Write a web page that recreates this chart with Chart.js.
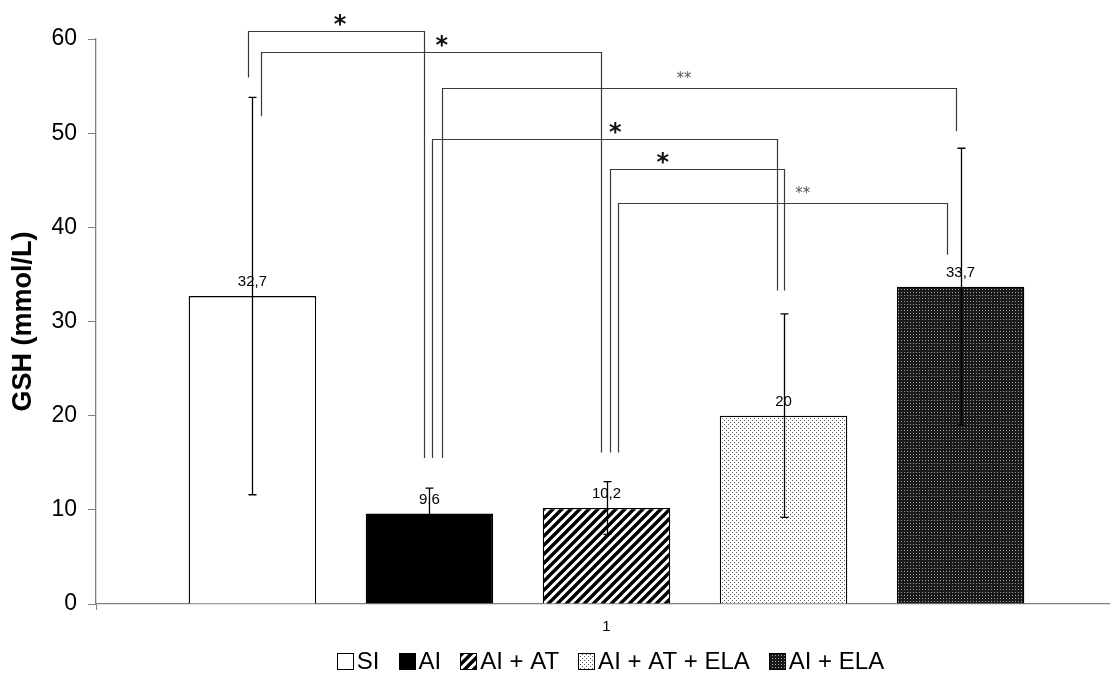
<!DOCTYPE html>
<html>
<head>
<meta charset="utf-8">
<script src="https://cdn.jsdelivr.net/npm/chart.js@4/dist/chart.umd.min.js"></script>
<style>
  html, body { margin: 0; background: #fff; overflow: hidden; }
  #wrap { width: 1117px; height: 677px; }
</style>
</head>
<body>
<div id="wrap"><canvas id="chart"></canvas></div>
<script>
// --- data ---
const categories = ["1"];
const groups = ["SI", "AI", "AI + AT", "AI + AT + ELA", "AI + ELA"];
const means = [32.7, 9.6, 10.2, 20, 33.7];
const errors = [21.1, 2.7, 2.8, 10.8, 14.7];
const yTicks = [0, 10, 20, 30, 40, 50, 60];

// significance brackets (group index from/to, heights in mmol/L)
const bracketFrom = [0, 0, 1, 1, 2, 2];
const bracketTo = [1, 2, 4, 3, 3, 4];
const bracketTop = [60.9, 58.6, 54.8, 49.4, 46.2, 42.6];
const bracketLeftEnd = [55.9, 51.8, 15.5, 15.5, 16.1, 16.1];
const bracketRightEnd = [15.5, 16.1, 50.2, 33.3, 33.3, 37.1];
const bracketLabel = ["*", "*", "**", "*", "*", "**"];

// --- fills ---
function tile(w, h, draw) {
  const c = document.createElement("canvas");
  c.width = w; c.height = h;
  const g = c.getContext("2d");
  draw(g);
  return document.createElement("canvas").getContext("2d").createPattern(c, "repeat");
}
const stripes = tile(9, 9, g => {
  g.fillStyle = "#fff"; g.fillRect(0, 0, 9, 9);
  g.strokeStyle = "#000"; g.lineWidth = 3.4;
  g.beginPath();
  g.moveTo(-1, 10); g.lineTo(10, -1);
  g.moveTo(-5, 5); g.lineTo(5, -5);
  g.moveTo(4, 14); g.lineTo(14, 4);
  g.stroke();
});
const lightDots = tile(4, 4, g => {
  g.fillStyle = "#fff"; g.fillRect(0, 0, 4, 4);
  g.fillStyle = "#555";
  g.fillRect(0, 0, 1, 1); g.fillRect(2, 2, 1, 1);
});
const darkDots = tile(3, 3, g => {
  g.fillStyle = "#1a1a1a"; g.fillRect(0, 0, 3, 3);
  g.fillStyle = "#a0a0a0"; g.fillRect(1, 1, 1, 1);
});
const fills = ["#ffffff", "#000000", stripes, lightDots, darkDots];

// leg nudges so parallel brackets don't overlap (px)
const legShiftL = [-4, 9, 13, 3, 3, 11];
const legShiftR = [-5, -6, -5, -7, 0, -14];
const starAt = [0.52, 0.53, 0.47, 0.53, 0.30, 0.56];
const FONT = '"Liberation Sans", Arial, sans-serif';

const overlay = {
  id: "overlay",
  afterDatasetsDraw(chart) {
    const ctx = chart.ctx, y = chart.scales.y;
    const cx = i => chart.getDatasetMeta(i).data[0].x;
    ctx.save();

    // value labels
    ctx.font = "15px " + FONT;
    ctx.fillStyle = "#000";
    ctx.textAlign = "center";
    ctx.textBaseline = "alphabetic";
    means.forEach((v, i) => {
      ctx.fillText(String(v).replace(".", ","), cx(i), y.getPixelForValue(v) - 10);
    });

    // error bars
    ctx.strokeStyle = "#000";
    ctx.lineWidth = 1.3;
    means.forEach((v, i) => {
      const x = Math.round(cx(i)) + 0.5;
      const t = y.getPixelForValue(v + errors[i]);
      const b = y.getPixelForValue(v - errors[i]);
      ctx.beginPath();
      ctx.moveTo(x, t); ctx.lineTo(x, b);
      ctx.moveTo(x - 4, t); ctx.lineTo(x + 4, t);
      ctx.moveTo(x - 4, b); ctx.lineTo(x + 4, b);
      ctx.stroke();
    });

    // significance brackets
    ctx.strokeStyle = "#3a3a3a";
    ctx.lineWidth = 1.2;
    bracketFrom.forEach((a, k) => {
      const xl = Math.round(cx(a) + legShiftL[k]) + 0.5;
      const xr = Math.round(cx(bracketTo[k]) + legShiftR[k]) + 0.5;
      const top = Math.round(y.getPixelForValue(bracketTop[k])) + 0.5;
      ctx.beginPath();
      ctx.moveTo(xl, y.getPixelForValue(bracketLeftEnd[k]));
      ctx.lineTo(xl, top);
      ctx.lineTo(xr, top);
      ctx.lineTo(xr, y.getPixelForValue(bracketRightEnd[k]));
      ctx.stroke();
      const sx = xl + (xr - xl) * starAt[k];
      ctx.textBaseline = "middle";
      if (bracketLabel[k] === "*") {
        ctx.font = 'bold 24px "DejaVu Sans", sans-serif';
        ctx.fillStyle = "#111";
        ctx.fillText("*", sx, top - 6);
      } else {
        ctx.font = '15px "DejaVu Sans", sans-serif';
        ctx.fillStyle = "#555";
        ctx.fillText("**", sx, top - 9);
      }
    });

    // legend row under the axis
    const box = 16, gap = 4, between = 19, ly = 661;
    ctx.font = "24px " + FONT;
    const items = chart.data.datasets.map(d => ({
      text: d.label, fill: d.backgroundColor,
      w: box + gap + ctx.measureText(d.label).width
    }));
    const total = items.reduce((s, it) => s + it.w, 0) + between * (items.length - 1);
    let lx = (chart.chartArea.left + chart.chartArea.right) / 2 - total / 2 + 4;
    ctx.textAlign = "left";
    ctx.textBaseline = "middle";
    items.forEach(it => {
      const bx = Math.round(lx) + 0.5, by = Math.round(ly - box / 2) + 0.5;
      ctx.fillStyle = it.fill;
      ctx.fillRect(bx, by, box, box);
      ctx.strokeStyle = "#000";
      ctx.lineWidth = 1;
      ctx.strokeRect(bx, by, box, box);
      ctx.fillStyle = "#000";
      ctx.fillText(it.text, lx + box + gap, ly + 1);
      lx += it.w + between;
    });
    ctx.restore();
  }
};

const ctx = document.getElementById("chart").getContext("2d");
new Chart(ctx, {
  type: "bar",
  data: {
    labels: categories,
    datasets: groups.map((g, i) => ({
      label: g,
      data: [means[i]],
      backgroundColor: fills[i],
      borderColor: "#000",
      borderWidth: 1.3,
      categoryPercentage: 0.867,
      barPercentage: 0.72
    }))
  },
  options: {
    responsive: true,
    maintainAspectRatio: false,
    animation: false,
    layout: { padding: { top: 39, left: 4, right: 0, bottom: 33 } },
    plugins: {
      tooltip: { enabled: false },
      legend: { display: false }
    },
    scales: {
      x: {
        border: { color: "#808080", width: 1.3 },
        grid: { drawOnChartArea: false, tickLength: 6, color: "#808080" },
        ticks: { color: "#000", padding: 8, font: { family: FONT, size: 15 } }
      },
      y: {
        min: 0,
        max: 60,
        afterFit(scale) { scale.width = 92; },
        afterBuildTicks(scale) { scale.ticks = yTicks.map(v => ({ value: v })); },
        border: { color: "#808080", width: 1.3 },
        grid: { drawOnChartArea: false, tickLength: 8, color: "#808080" },
        ticks: { color: "#000", padding: 11, font: { family: FONT, size: 23 } },
        title: {
          display: true,
          text: "GSH (mmol/L)",
          color: "#000",
          padding: { top: 3, bottom: 0 },
          font: { family: FONT, size: 27, weight: "bold" }
        }
      }
    }
  },
  plugins: [overlay]
});
</script>
</body>
</html>
